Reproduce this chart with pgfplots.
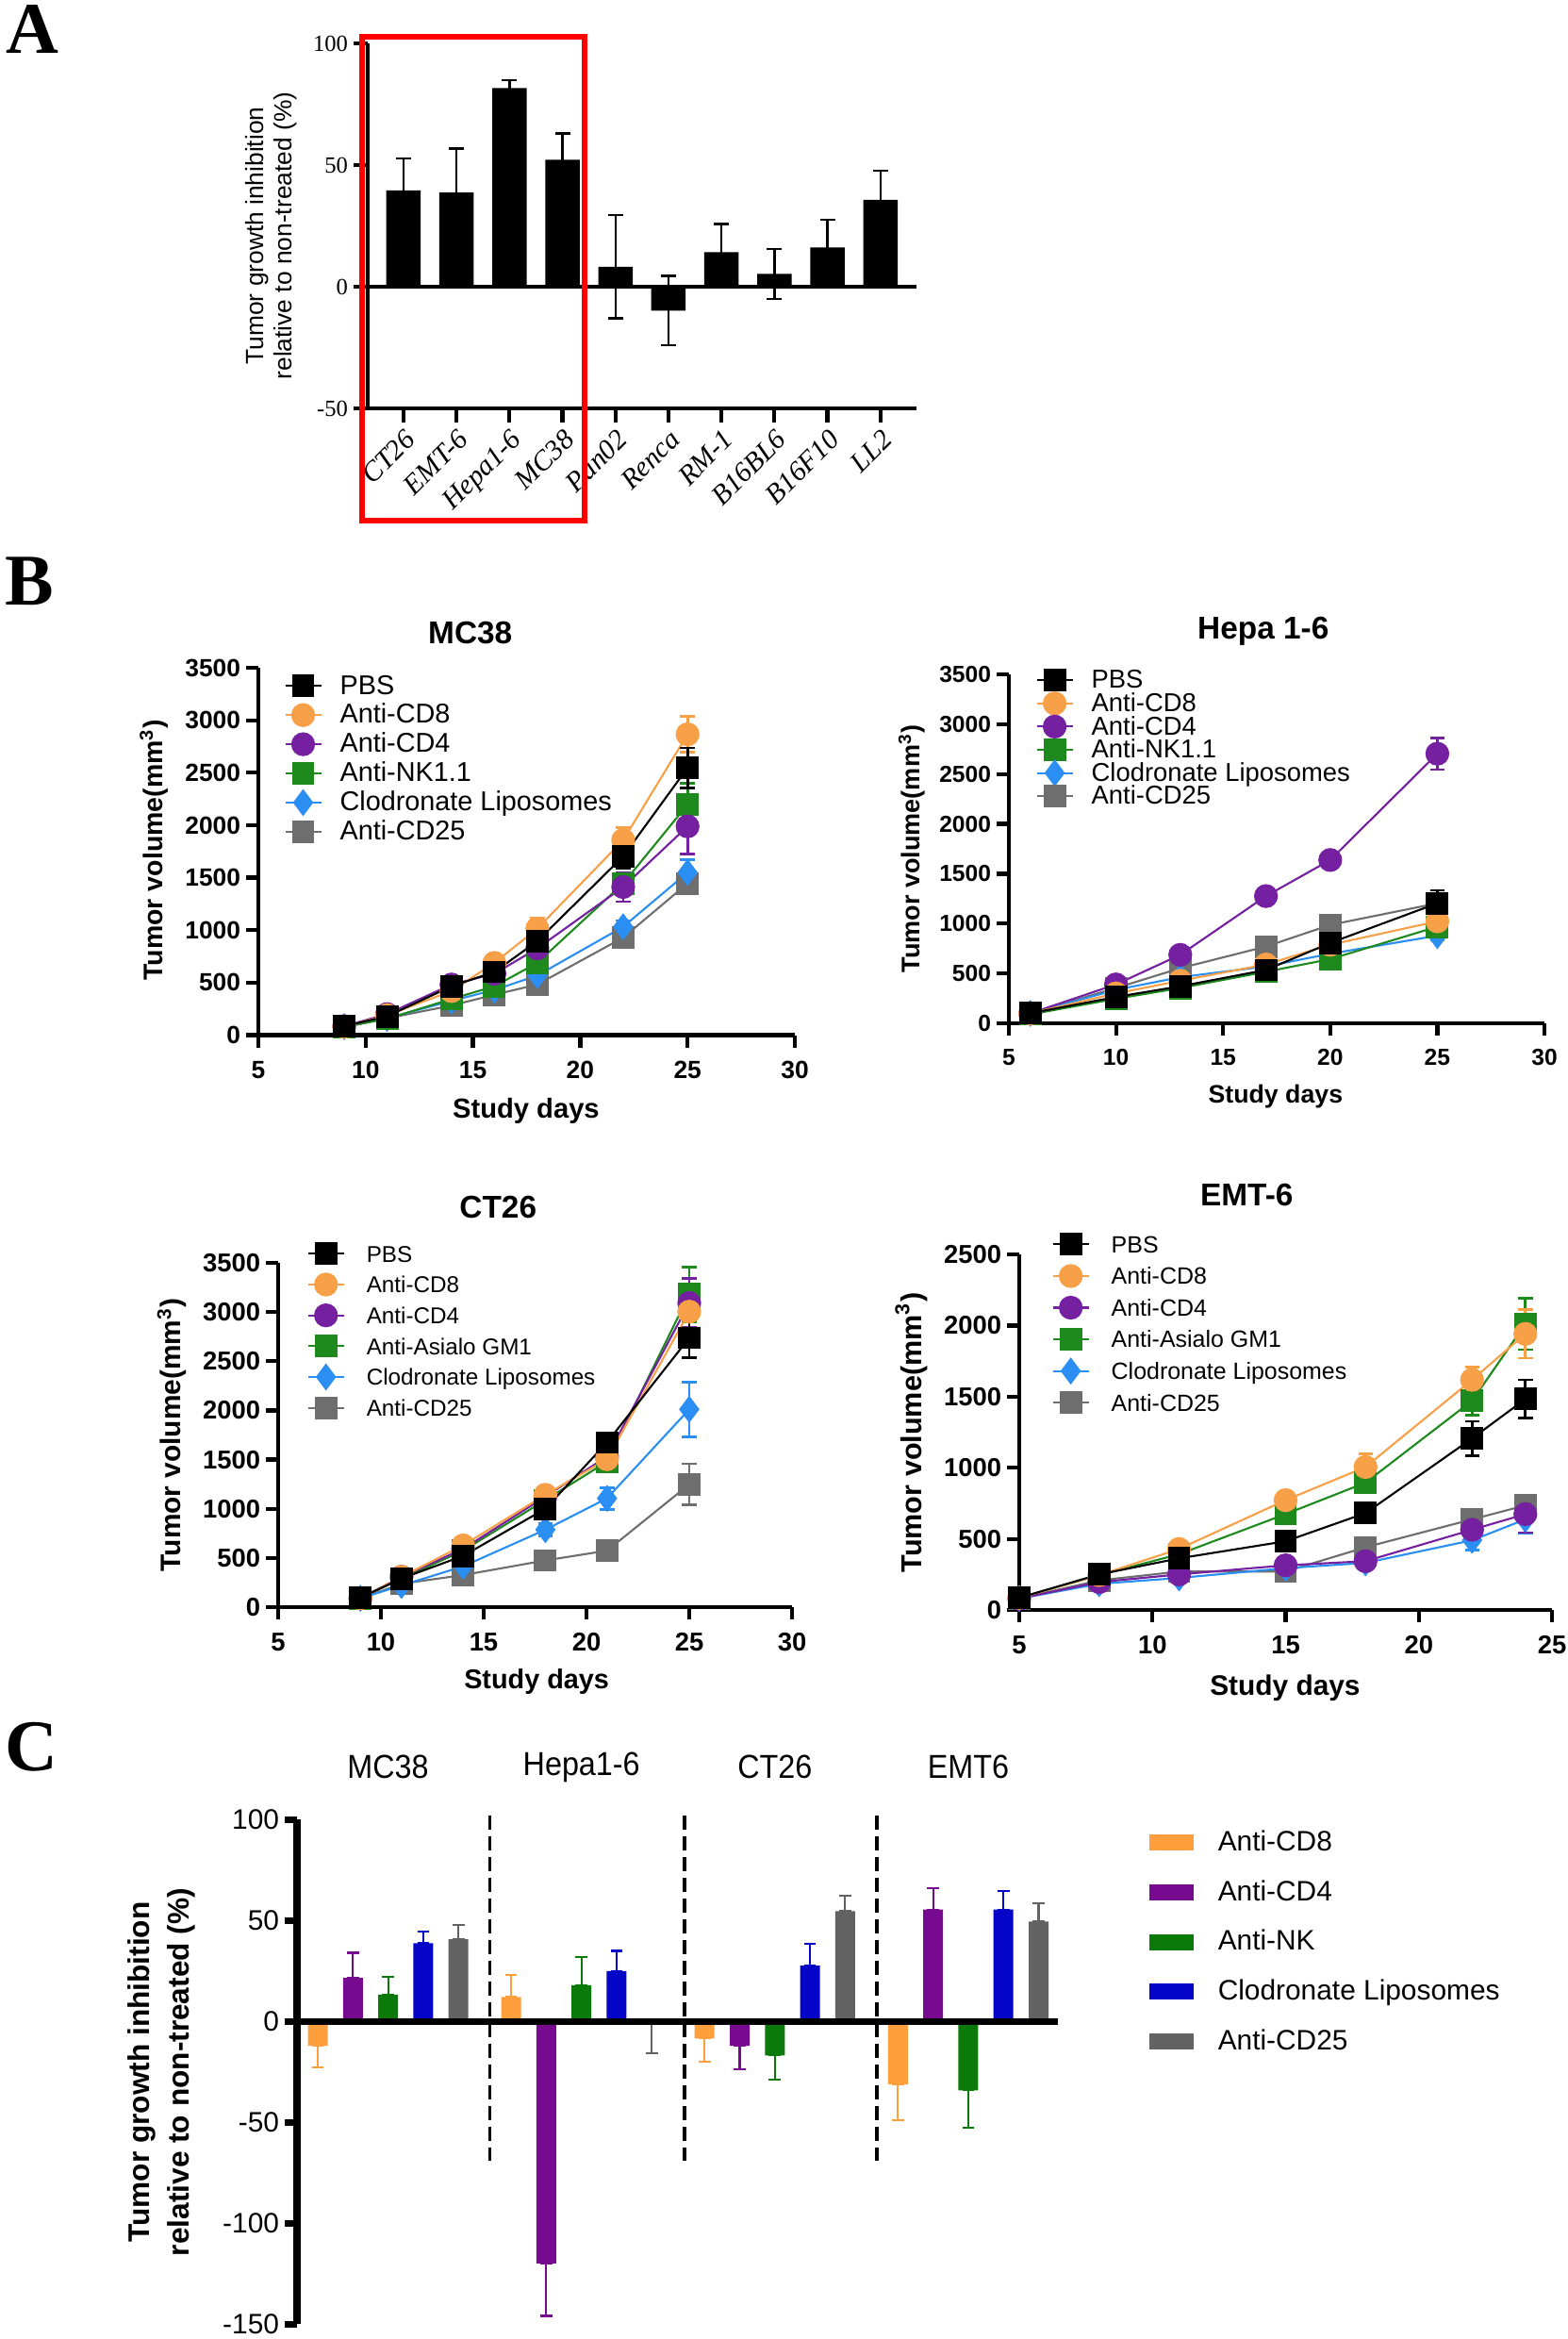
\documentclass[border=0pt]{standalone}
\usepackage{fontspec}
\setmainfont{Liberation Sans}
\newfontfamily\timesfont{Liberation Serif}
\newfontfamily\narrowfont[FakeStretch=0.92]{Liberation Sans}
\usepackage{pgfplots}
\pgfplotsset{compat=1.18}

% panel B colours
\definecolor{bOrange}{HTML}{F8A048}
\definecolor{bPurple}{HTML}{7420A0}
\definecolor{bGreen}{HTML}{1E8A1E}
\definecolor{bBlue}{HTML}{2A8EF2}
\definecolor{bGray}{HTML}{6E6E6E}
% panel C colours
\definecolor{cOrange}{HTML}{FF9E3D}
\definecolor{cPurple}{HTML}{780A90}
\definecolor{cGreen}{HTML}{0B7A0B}
\definecolor{cBlue}{HTML}{0505C8}
\definecolor{cGray}{HTML}{626262}

\pgfplotsset{
  growth/.style={
    scale only axis, clip=false, anchor=south west,
    axis lines=left, axis line style={-, line width=1.4pt},
    tick align=outside, major tick length=0.13cm,
    every tick/.style={black, line width=1.2pt},
    /pgf/number format/assume math mode=true,
    /pgf/number format/1000 sep={},
    scaled ticks=false,
    ticklabel style={font=\bfseries\fontsize{7.5}{8}\selectfont},
    yticklabel style={inner sep=1.5pt},
    xticklabel style={inner sep=4pt},
    every axis title shift=0pt,
    title style={font=\bfseries\fontsize{9.5}{11}\selectfont, anchor=center},
    xlabel style={anchor=center},
    ylabel style={anchor=center},
    legend cell align=left, reverse legend,
    legend style={draw=none, fill=none, anchor=north west, inner sep=0pt,
      column sep=0.19cm, nodes={inner sep=0pt, text height=0.7em, text depth=0.2em}},
    legend image code/.code={\path (0cm,0cm) -- (0.38cm,0cm);
      \draw[overlay,mark repeat=2,mark phase=2,##1] plot coordinates {(0cm,0cm) (0.19cm,0cm) (0.38cm,0cm)};},
  },
  eb/.style={error bars/.cd, y dir=both, y explicit,
    error bar style={line width=0.8pt},
    error mark options={rotate=90, mark size=2.2pt, line width=0.8pt}},
  sPBS/.style={black, line width=0.6pt, mark=square*, mark size=3.1pt, mark options={solid}, eb},
  sCD8/.style={bOrange, line width=0.6pt, mark=*, mark size=3.3pt, mark options={solid}, eb},
  sCD4/.style={bPurple, line width=0.6pt, mark=*, mark size=3.3pt, mark options={solid}, eb},
  sNK/.style={bGreen, line width=0.6pt, mark=square*, mark size=3.1pt, mark options={solid}, eb},
  sClod/.style={bBlue, line width=0.6pt, mark=diamond*, mark size=3.6pt, mark options={solid}, eb},
  sCD25/.style={bGray, line width=0.6pt, mark=square*, mark size=3.1pt, mark options={solid}, eb},
  ceb/.style={error bars/.cd, y dir=both, y explicit,
    error bar style={color=#1, line width=0.6pt},
    error mark options={rotate=90, mark size=1.8pt, line width=0.6pt, color=#1}},
}

\begin{document}
\begin{tikzpicture}
\useasboundingbox (0,0) rectangle (16.63cm,-24.80cm);

% ---------------- panel A ----------------
\node[anchor=base west, inner sep=0pt, font=\timesfont\bfseries\fontsize{22}{22}\selectfont] at (0.06cm,-0.57cm) {A};
\begin{axis}[
  scale only axis, clip=false, anchor=south west,
  at={(3.90cm,-4.33cm)}, width=5.82cm, height=3.87cm,
  xmin=-0.676, xmax=9.68, ymin=-50, ymax=100,
  axis x line=bottom, axis y line=left, axis line style={-, line width=1.2pt},
  tick align=outside, major tick length=0.15cm,
  every tick/.style={black, line width=1.2pt},
  xtick={0,...,9},
  xticklabels={CT26,EMT-6,Hepa1-6,MC38,Pan02,Renca,RM-1,B16BL6,B16F10,LL2},
  xticklabel style={font=\timesfont\itshape\fontsize{8.5}{9}\selectfont, rotate=45, anchor=north east, inner sep=1pt},
  ytick={-50,0,50,100}, yticklabels={-50,0,50,100},
  yticklabel style={font=\timesfont\fontsize{7}{8}\selectfont, inner sep=1.5pt},
  ylabel={Tumor growth inhibition\\relative to non-treated (\%)},
  ylabel style={align=center, font=\fontsize{7.5}{8.4}\selectfont, at={(axis description cs:-0.176,0.473)}, anchor=center},
]
\addplot[ybar, bar width=0.365cm, bar shift=0pt, fill=black, draw=none,
  error bars/.cd, y dir=both, y explicit,
  error bar style={black, line width=0.7pt},
  error mark options={rotate=90, mark size=0.08cm, line width=0.7pt, black}]
  coordinates {(0,39.6)+-(0,13.2) (1,38.7)+-(0,18.1) (2,81.6)+-(0,3.3) (3,52.2)+-(0,10.7)
               (4,8.2)+-(0,21.2) (5,-9.8)+-(0,14.2) (6,14.2)+-(0,11.6) (7,5.3)+-(0,10.3)
               (8,16.1)+-(0,11.5) (9,35.7)+-(0,11.9)};
\draw[line width=1.1pt] (axis cs:-0.676,0) -- (axis cs:9.68,0);
\end{axis}
\draw[red, line width=1.7pt] (3.84cm,-0.39cm) rectangle (6.20cm,-5.52cm);

% ---------------- panel B ----------------
\node[anchor=base west, inner sep=0pt, font=\timesfont\bfseries\fontsize{22}{22}\selectfont] at (0.05cm,-6.41cm) {B};

% MC38
\begin{axis}[growth,
  at={(2.74cm,-10.975cm)}, width=5.69cm, height=3.895cm,
  xmin=5, xmax=30, ymin=0, ymax=3500, xtick={5,10,...,30}, ytick={0,500,...,3500},
  title={MC38}, title style={at={(axis description cs:0.395,1.095)}},
  xlabel={Study days}, xlabel style={font=\bfseries\fontsize{8.3}{9}\selectfont, at={(axis description cs:0.499,-0.207)}},
  ylabel={Tumor volume(mm\textsuperscript{3})}, ylabel style={font=\bfseries\fontsize{8.1}{9}\selectfont, at={(axis description cs:-0.195,0.504)}},
  legend style={at={(axis description cs:0.047,0.993)}, font=\fontsize{8.2}{9}\selectfont, row sep=-0.2pt},
]
\addplot[sCD25] coordinates {(9,75)+-(0,8) (11,160)+-(0,10) (14,282)+-(0,20) (16,385)+-(0,25) (18,482)+-(0,30) (22,929)+-(0,40) (25,1445)+-(0,60)};
\addlegendentry{Anti-CD25}
\addplot[sClod] coordinates {(9,80)+-(0,8) (11,160)+-(0,10) (14,327)+-(0,20) (16,430)+-(0,25) (18,568)+-(0,40) (22,1032)+-(0,60) (25,1549)+-(0,120)};
\addlegendentry{Clodronate Liposomes}
\addplot[sNK] coordinates {(9,80)+-(0,8) (11,155)+-(0,10) (14,344)+-(0,25) (16,465)+-(0,40) (18,688)+-(0,70) (22,1445)+-(0,90) (25,2196)+-(0,200)};
\addlegendentry{Anti-NK1.1}
\addplot[sCD4] coordinates {(9,85)+-(0,8) (11,200)+-(0,15) (14,482)+-(0,30) (16,585)+-(0,40) (18,826)+-(0,60) (22,1411)+-(0,140) (25,1989)+-(0,260)};
\addlegendentry{Anti-CD4}
\addplot[sCD8] coordinates {(9,80)+-(0,8) (11,190)+-(0,15) (14,420)+-(0,30) (16,688)+-(0,40) (18,1015)+-(0,100) (22,1858)+-(0,120) (25,2866)+-(0,170)};
\addlegendentry{Anti-CD8}
\addplot[sPBS] coordinates {(9,86)+-(0,10) (11,179)+-(0,15) (14,465)+-(0,30) (16,602)+-(0,40) (18,895)+-(0,80) (22,1703)+-(0,110) (25,2547)+-(0,190)};
\addlegendentry{PBS}
\end{axis}

% Hepa 1-6
\begin{axis}[growth,
  at={(10.70cm,-10.85cm)}, width=5.68cm, height=3.70cm,
  xmin=5, xmax=30, ymin=0, ymax=3500, xtick={5,10,...,30}, ytick={0,500,...,3500},
  ticklabel style={font=\bfseries\fontsize{7}{8}\selectfont},
  title={Hepa 1-6}, title style={at={(axis description cs:0.475,1.124)}},
  xlabel={Study days}, xlabel style={font=\bfseries\fontsize{7.6}{9}\selectfont, at={(axis description cs:0.498,-0.211)}},
  ylabel={Tumor volume(mm\textsuperscript{3})}, ylabel style={font=\bfseries\fontsize{7.7}{9}\selectfont, at={(axis description cs:-0.181,0.5)}},
  legend style={at={(axis description cs:0.049,1.028)}, font=\fontsize{7.8}{9}\selectfont, row sep=-2.0pt},
]
\addplot[sCD25] coordinates {(6,100)+-(0,10) (10,354)+-(0,15) (13,553)+-(0,20) (17,770)+-(0,30) (20,987)+-(0,40) (25,1204)+-(0,50)};
\addlegendentry{Anti-CD25}
\addplot[sClod] coordinates {(6,100)+-(0,10) (10,336)+-(0,15) (13,463)+-(0,20) (17,571)+-(0,25) (20,698)+-(0,30) (25,879)+-(0,40)};
\addlegendentry{Clodronate Liposomes}
\addplot[sNK] coordinates {(6,90)+-(0,10) (10,246)+-(0,15) (13,354)+-(0,20) (17,517)+-(0,25) (20,644)+-(0,50) (25,969)+-(0,60)};
\addlegendentry{Anti-NK1.1}
\addplot[sCD4] coordinates {(6,100)+-(0,10) (10,390)+-(0,20) (13,687)+-(0,40) (17,1276)+-(0,50) (20,1638)+-(0,60) (25,2704)+-(0,160)};
\addlegendentry{Anti-CD4}
\addplot[sCD8] coordinates {(6,100)+-(0,10) (10,300)+-(0,15) (13,427)+-(0,20) (17,590)+-(0,25) (20,788)+-(0,30) (25,1023)+-(0,80)};
\addlegendentry{Anti-CD8}
\addplot[sPBS] coordinates {(6,101)+-(0,10) (10,264)+-(0,15) (13,372)+-(0,20) (17,535)+-(0,25) (20,806)+-(0,50) (25,1204)+-(0,130)};
\addlegendentry{PBS}
\end{axis}

% CT26
\begin{axis}[growth,
  at={(2.95cm,-17.04cm)}, width=5.45cm, height=3.65cm,
  xmin=5, xmax=30, ymin=0, ymax=3500, xtick={5,10,...,30}, ytick={0,500,...,3500},
  ticklabel style={font=\bfseries\fontsize{7.8}{8}\selectfont},
  title={CT26}, title style={at={(axis description cs:0.428,1.162)}},
  xlabel={Study days}, xlabel style={font=\bfseries\fontsize{8.2}{9}\selectfont, at={(axis description cs:0.503,-0.216)}},
  ylabel={Tumor volume(mm\textsuperscript{3})}, ylabel style={font=\bfseries\fontsize{8.5}{9}\selectfont, at={(axis description cs:-0.207,0.501)}},
  legend style={at={(axis description cs:0.055,1.072)}, font=\fontsize{6.9}{8}\selectfont, row sep=0.3pt, column sep=0.23cm},
]
\addplot[sCD25] coordinates {(9,85)+-(0,8) (11,238)+-(0,15) (14,326)+-(0,20) (18,475)+-(0,30) (21,574)+-(0,80) (25,1248)+-(0,210)};
\addlegendentry{Anti-CD25}
\addplot[sClod] coordinates {(9,90)+-(0,8) (11,220)+-(0,15) (14,415)+-(0,25) (18,787)+-(0,60) (21,1106)+-(0,110) (25,2011)+-(0,280)};
\addlegendentry{Clodronate Liposomes}
\addplot[sNK] coordinates {(9,90)+-(0,8) (11,291)+-(0,15) (14,574)+-(0,30) (18,1089)+-(0,50) (21,1479)+-(0,90) (25,3181)+-(0,280)};
\addlegendentry{Anti-Asialo GM1}
\addplot[sCD4] coordinates {(9,90)+-(0,8) (11,309)+-(0,15) (14,592)+-(0,30) (18,1124)+-(0,50) (21,1532)+-(0,60) (25,3092)+-(0,250)};
\addlegendentry{Anti-CD4}
\addplot[sCD8] coordinates {(9,90)+-(0,8) (11,309)+-(0,15) (14,628)+-(0,30) (18,1142)+-(0,50) (21,1504)+-(0,60) (25,3004)+-(0,200)};
\addlegendentry{Anti-CD8}
\addplot[sPBS] coordinates {(9,96)+-(0,10) (11,291)+-(0,15) (14,521)+-(0,40) (18,1000)+-(0,60) (21,1674)+-(0,90) (25,2738)+-(0,200)};
\addlegendentry{PBS}
\end{axis}

% EMT-6
\begin{axis}[growth,
  at={(10.81cm,-17.07cm)}, width=5.65cm, height=3.77cm,
  xmin=5, xmax=25, ymin=0, ymax=2500, xtick={5,10,...,25}, ytick={0,500,...,2500},
  ticklabel style={font=\bfseries\fontsize{7.8}{8}\selectfont},
  title={EMT-6}, title style={at={(axis description cs:0.427,1.167)}},
  xlabel={Study days}, xlabel style={font=\bfseries\fontsize{8.5}{9}\selectfont, at={(axis description cs:0.499,-0.22)}},
  ylabel={Tumor volume(mm\textsuperscript{3})}, ylabel style={font=\bfseries\fontsize{8.7}{9}\selectfont, at={(axis description cs:-0.202,0.499)}},
  legend style={at={(axis description cs:0.060,1.072)}, font=\fontsize{7.1}{8}\selectfont, row sep=0.55pt, column sep=0.23cm},
]
\addplot[sCD25] coordinates {(5,80)+-(0,8) (8,208)+-(0,15) (11,270)+-(0,15) (15,270)+-(0,20) (18,441)+-(0,30) (22,637)+-(0,60) (24,735)+-(0,70)};
\addlegendentry{Anti-CD25}
\addplot[sClod] coordinates {(5,80)+-(0,8) (8,184)+-(0,15) (11,225)+-(0,15) (15,294)+-(0,20) (18,331)+-(0,30) (22,490)+-(0,70) (24,637)+-(0,100)};
\addlegendentry{Clodronate Liposomes}
\addplot[sNK] coordinates {(5,85)+-(0,8) (8,245)+-(0,15) (11,392)+-(0,20) (15,674)+-(0,40) (18,895)+-(0,60) (22,1471)+-(0,100) (24,2010)+-(0,180)};
\addlegendentry{Anti-Asialo GM1}
\addplot[sCD4] coordinates {(5,80)+-(0,8) (8,196)+-(0,15) (11,250)+-(0,15) (15,314)+-(0,20) (18,343)+-(0,40) (22,564)+-(0,80) (24,674)+-(0,130)};
\addlegendentry{Anti-CD4}
\addplot[sCD8] coordinates {(5,85)+-(0,8) (8,245)+-(0,15) (11,429)+-(0,20) (15,772)+-(0,60) (18,1005)+-(0,90) (22,1618)+-(0,90) (24,1941)+-(0,170)};
\addlegendentry{Anti-CD8}
\addplot[sPBS] coordinates {(5,86)+-(0,8) (8,250)+-(0,20) (11,363)+-(0,30) (15,483)+-(0,30) (18,681)+-(0,50) (22,1206)+-(0,120) (24,1483)+-(0,135)};
\addlegendentry{PBS}
\end{axis}

% ---------------- panel C ----------------
\node[anchor=base west, inner sep=0pt, font=\timesfont\bfseries\fontsize{22}{22}\selectfont] at (0.05cm,-18.77cm) {C};
\begin{axis}[
  scale only axis, clip=false, anchor=south west,
  at={(3.15cm,-24.64cm)}, width=8.07cm, height=5.35cm,
  xmin=-0.59, xmax=21.05, ymin=-150, ymax=100,
  axis x line=none, axis y line=left, axis line style={-, line width=2.2pt},
  xtick=\empty, ytick={-150,-100,-50,0,50,100}, yticklabels={-150,-100,-50,0,50,100},
  tick align=outside, major tick length=0.13cm,
  every tick/.style={black, line width=2pt},
  yticklabel style={font=\fontsize{8.5}{9}\selectfont, inner sep=1.5pt},
  ylabel={Tumor growth inhibition\\relative to non-treated (\%)},
  ylabel style={align=center, font=\bfseries\fontsize{9}{11.7}\selectfont, at={(axis description cs:-0.178,0.499)}, anchor=center},
  legend cell align=left,
  legend style={draw=none, fill=none, at={(axis description cs:1.119,0.985)}, anchor=north west,
    font=\fontsize{8.5}{9}\selectfont, row sep=6.0pt, column sep=0.26cm, inner sep=0pt,
    nodes={inner sep=0pt, text height=0.7em, text depth=0.2em}},
  legend image code/.code={\fill[#1] (0cm,-0.085cm) rectangle (0.47cm,0.085cm);},
]
\addplot[ybar, bar width=0.21cm, bar shift=0pt, fill=cOrange, draw=none, ceb=cOrange]
  coordinates {(0,-12.2) += (0,0) -= (0,10.6) (5.5,12.0) += (0,11) -= (0,0)
               (11,-8.6) += (0,0) -= (0,11.4) (16.5,-31.2) += (0,0) -= (0,18)};
\addlegendentry{Anti-CD8}
\addplot[ybar, bar width=0.21cm, bar shift=0pt, fill=cPurple, draw=none, ceb=cPurple]
  coordinates {(1,21.4) += (0,12.5) -= (0,0) (6.5,-120) += (0,0) -= (0,26)
               (12,-12.2) += (0,0) -= (0,11.8) (17.5,55.3) += (0,10.6) -= (0,0)};
\addlegendentry{Anti-CD4}
\addplot[ybar, bar width=0.21cm, bar shift=0pt, fill=cGreen, draw=none, ceb=cGreen]
  coordinates {(2,13.1) += (0,9) -= (0,0) (7.5,17.8) += (0,14) -= (0,0)
               (13,-17) += (0,0) -= (0,11.8) (18.5,-34.3) += (0,0) -= (0,18.6)};
\addlegendentry{Anti-NK}
\addplot[ybar, bar width=0.21cm, bar shift=0pt, fill=cBlue, draw=none, ceb=cBlue]
  coordinates {(3,38.6) += (0,6) -= (0,0) (8.5,24.8) += (0,10) -= (0,0)
               (14,27.5) += (0,10.8) -= (0,0) (19.5,55.3) += (0,9) -= (0,0)};
\addlegendentry{Clodronate Liposomes}
\addplot[ybar, bar width=0.21cm, bar shift=0pt, fill=cGray, draw=none, ceb=cGray]
  coordinates {(4,40.6) += (0,7) -= (0,0) (9.5,-0.5) += (0,0) -= (0,15.5)
               (15,54.5) += (0,7.5) -= (0,0) (20.5,49.4) += (0,9) -= (0,0)};
\addlegendentry{Anti-CD25}
\draw[line width=2pt] (axis cs:-0.59,0) -- (axis cs:21.05,0);
\draw[line width=0.9pt, dash pattern=on 0.15cm off 0.07cm] (axis cs:4.9,102) -- (axis cs:4.9,-69);
\draw[line width=0.9pt, dash pattern=on 0.15cm off 0.07cm] (axis cs:10.43,102) -- (axis cs:10.43,-69);
\draw[line width=0.9pt, dash pattern=on 0.15cm off 0.07cm] (axis cs:15.9,102) -- (axis cs:15.9,-69);
\node[font=\narrowfont\fontsize{10}{11}\selectfont] at (axis cs:2,126) {MC38};
\node[font=\narrowfont\fontsize{10}{11}\selectfont] at (axis cs:7.5,126) {Hepa1-6};
\node[font=\narrowfont\fontsize{10}{11}\selectfont] at (axis cs:13,126) {CT26};
\node[font=\narrowfont\fontsize{10}{11}\selectfont] at (axis cs:18.5,126) {EMT6};
\end{axis}
\end{tikzpicture}
\end{document}
